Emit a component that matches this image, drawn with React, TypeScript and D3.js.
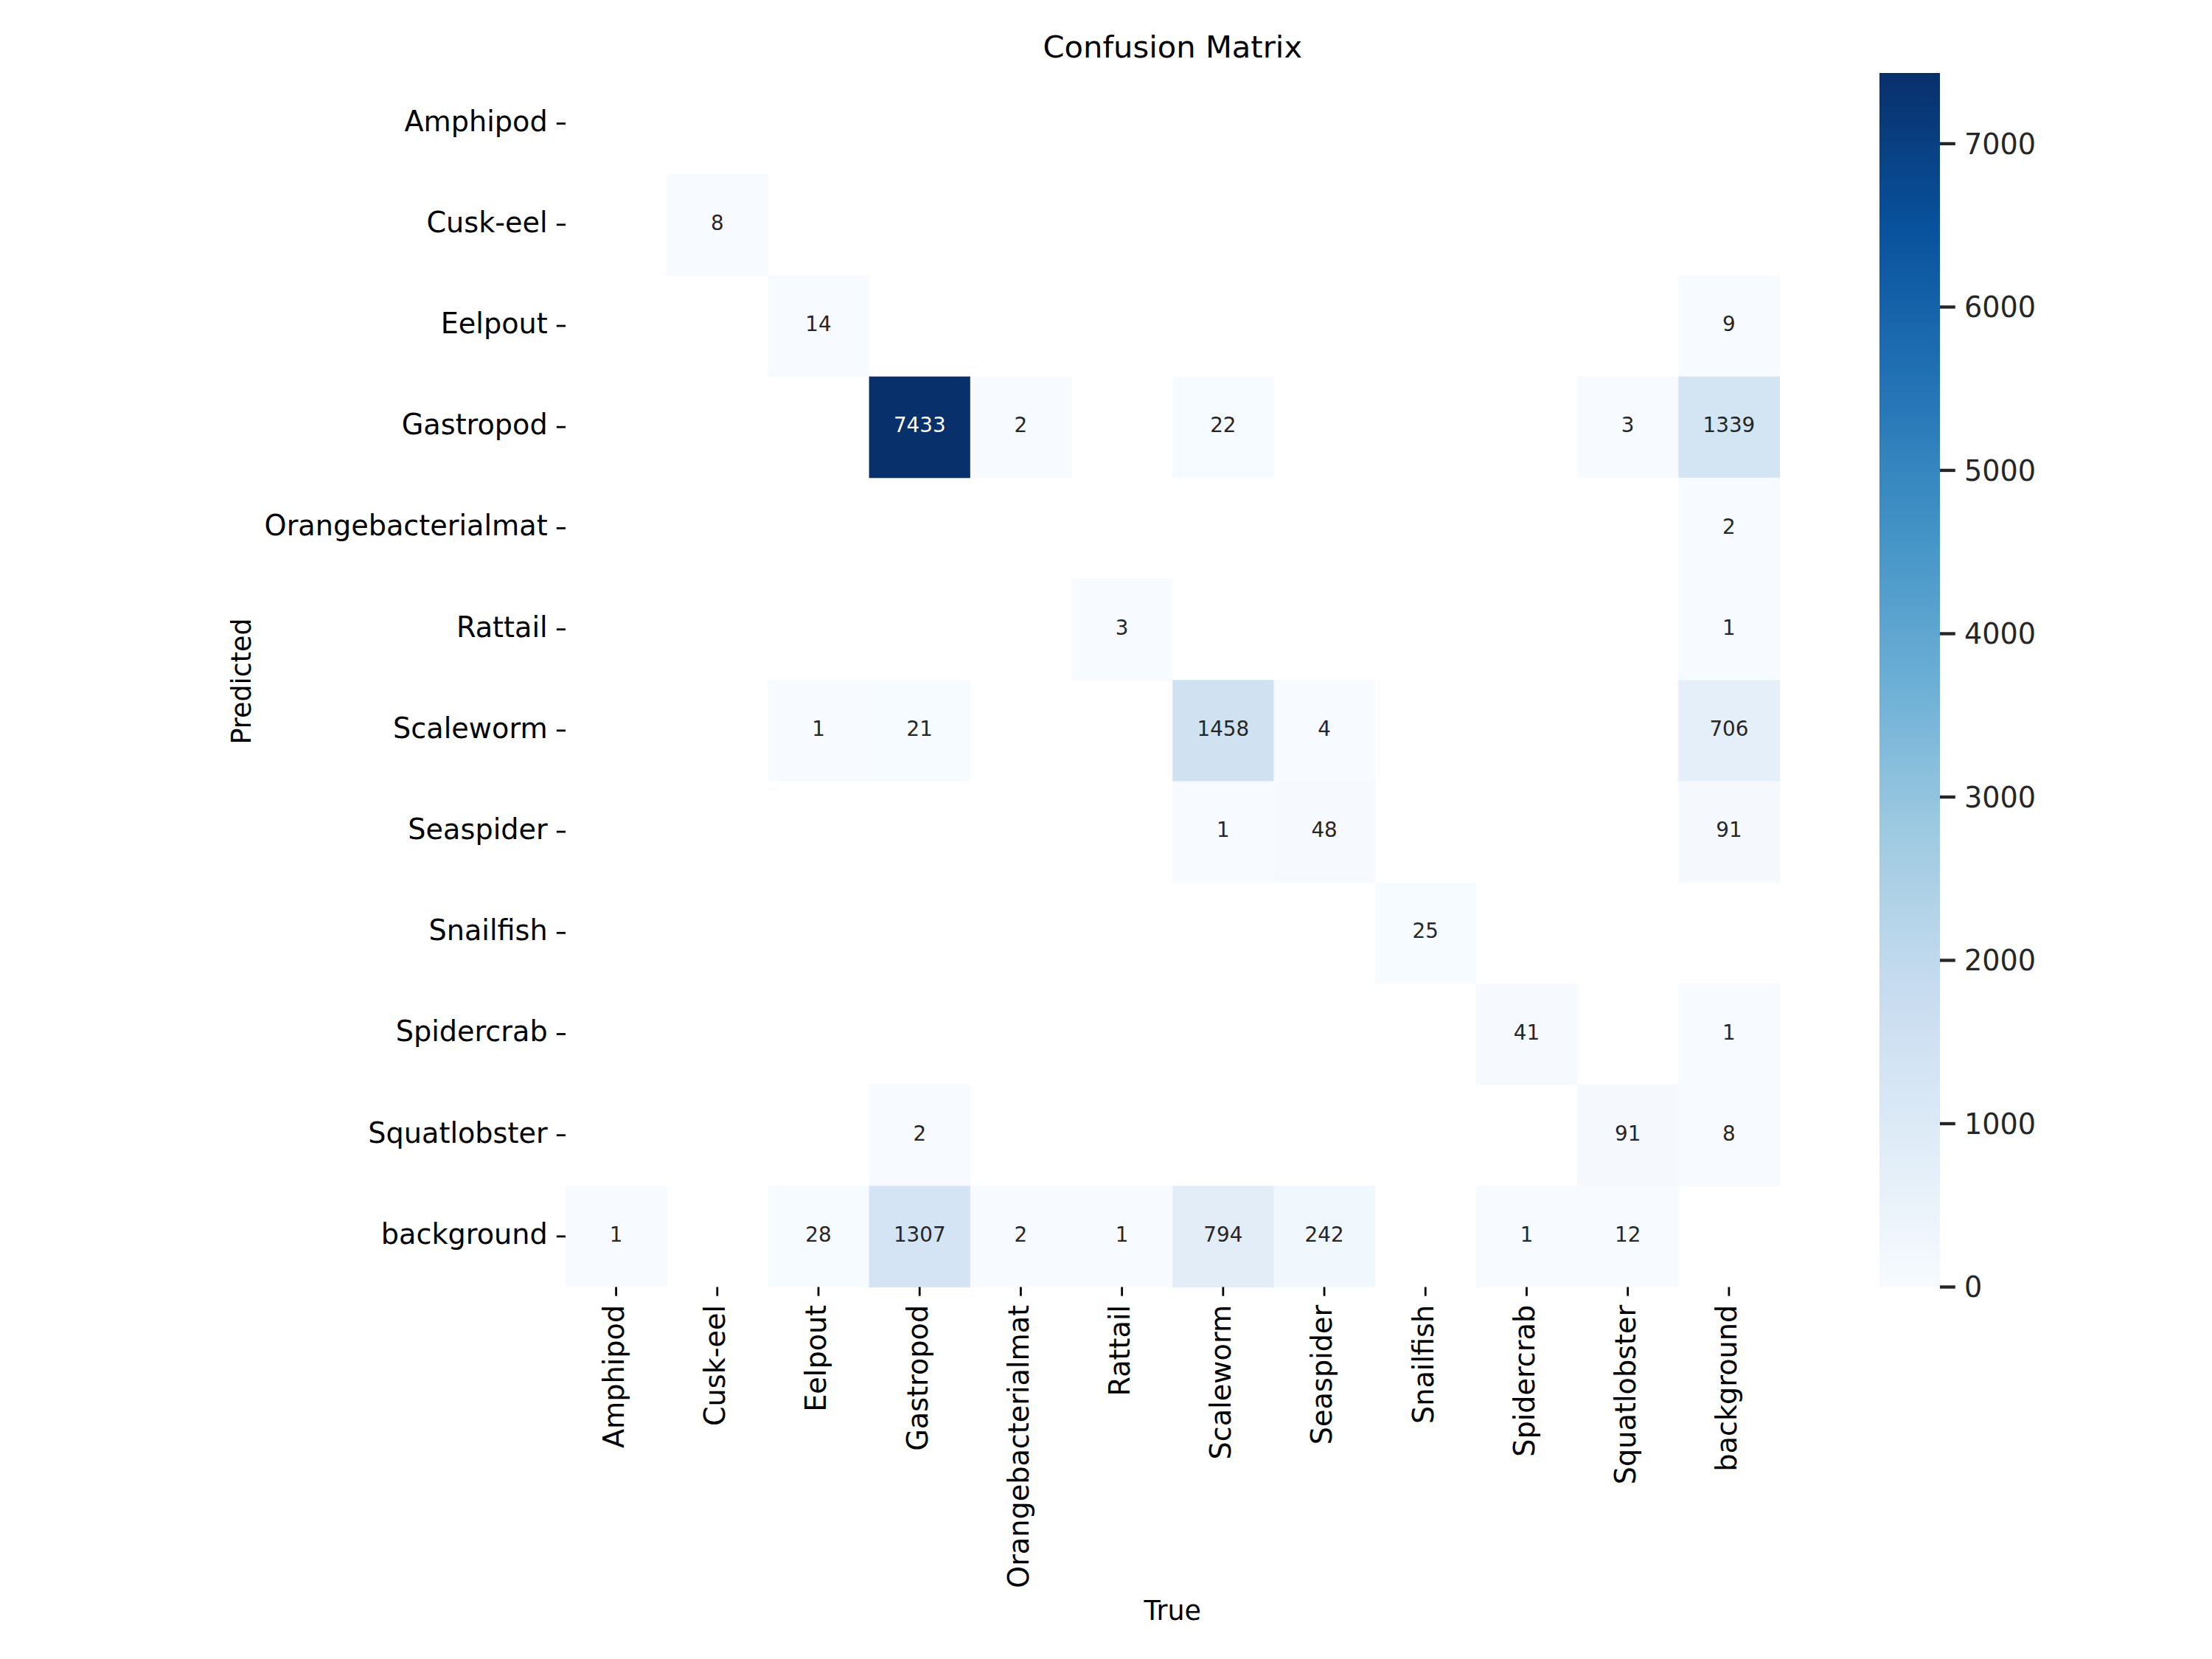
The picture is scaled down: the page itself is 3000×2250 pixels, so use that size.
import React from 'react';
import * as d3 from 'd3';

const classes = [
  'Amphipod', 'Cusk-eel', 'Eelpout', 'Gastropod', 'Orangebacterialmat', 'Rattail',
  'Scaleworm', 'Seaspider', 'Snailfish', 'Spidercrab', 'Squatlobster', 'background',
];

// Rows = Predicted, columns = True (null = empty cell)
const rowAmphipod = [null, null, null, null, null, null, null, null, null, null, null, null];
const rowCuskEel = [null, 8, null, null, null, null, null, null, null, null, null, null];
const rowEelpout = [null, null, 14, null, null, null, null, null, null, null, null, 9];
const rowGastropod = [null, null, null, 7433, 2, null, 22, null, null, null, 3, 1339];
const rowOrangebacterialmat = [null, null, null, null, null, null, null, null, null, null, null, 2];
const rowRattail = [null, null, null, null, null, 3, null, null, null, null, null, 1];
const rowScaleworm = [null, null, 1, 21, null, null, 1458, 4, null, null, null, 706];
const rowSeaspider = [null, null, null, null, null, null, 1, 48, null, null, null, 91];
const rowSnailfish = [null, null, null, null, null, null, null, null, 25, null, null, null];
const rowSpidercrab = [null, null, null, null, null, null, null, null, null, 41, null, 1];
const rowSquatlobster = [null, null, null, 2, null, null, null, null, null, null, 91, 8];
const rowBackground = [1, null, 28, 1307, 2, 1, 794, 242, null, 1, 12, null];

const matrix: (number | null)[][] = [
  rowAmphipod, rowCuskEel, rowEelpout, rowGastropod, rowOrangebacterialmat, rowRattail,
  rowScaleworm, rowSeaspider, rowSnailfish, rowSpidercrab, rowSquatlobster, rowBackground,
];

const colorbarTicks = [0, 1000, 2000, 3000, 4000, 5000, 6000, 7000];

const title = 'Confusion Matrix';
const xLabel = 'True';
const yLabel = 'Predicted';

const bluesStops = ['#f7fbff', '#deebf7', '#c6dbef', '#9ecae1', '#6baed6', '#4292c6', '#2171b5', '#08519c', '#08306b'];

const W = 3000;
const H = 2250;
const FONT = '"DejaVu Sans", Verdana, sans-serif';
const PT = 250 / 72;

const top = 99;
const bottom = 1745.5;
const left = 767;
const cell = (bottom - top) / classes.length;
const right = left + cell * classes.length;

const cbLeft = 2549;
const cbRight = 2631;

function luminance(c: string) {
  const rgb = d3.rgb(c);
  const f = (v: number) => {
    const s = v / 255;
    return s <= 0.03928 ? s / 12.92 : Math.pow((s + 0.055) / 1.055, 2.4);
  };
  return 0.2126 * f(rgb.r) + 0.7152 * f(rgb.g) + 0.0722 * f(rgb.b);
}

export default function App() {
  const allVals = matrix.flat().filter((v): v is number => v != null);
  const vmax = d3.max(allVals) as number;

  const color = d3
    .scaleLinear<string>()
    .domain(bluesStops.map((_, i) => (i / (bluesStops.length - 1)) * vmax))
    .range(bluesStops)
    .interpolate(d3.interpolateRgb)
    .clamp(true);

  const x = d3.scaleBand<string>().domain(classes).range([left, right]).padding(0);
  const y = d3.scaleBand<string>().domain(classes).range([top, bottom]).padding(0);
  const cbY = d3.scaleLinear().domain([0, vmax]).range([bottom, top]);

  const tickLen = 3.5 * PT;
  const tickPad = 3.5 * PT;
  const tickW = 0.8 * PT;
  const cbTickLen = 6 * PT;
  const cbTickW = 1.25 * PT;

  const gradStops = d3.range(0, 65).map((i) => i / 64);

  return (
    <svg
      width={W}
      height={H}
      viewBox={`0 0 ${W} ${H}`}
      style={{ position: 'absolute', left: 0, top: 0, background: '#ffffff' }}
      fontFamily={FONT}
    >
      <defs>
        <linearGradient id="cbgrad" x1="0" y1="1" x2="0" y2="0">
          {gradStops.map((t) => (
            <stop key={t} offset={t} stopColor={color(t * vmax)} />
          ))}
        </linearGradient>
      </defs>
      <rect x={0} y={0} width={W} height={H} fill="#ffffff" />

      {/* cells */}
      <g>
        {matrix.map((row, ri) =>
          row.map((v, ci) =>
            v == null ? null : (
              <rect
                key={`c-${ri}-${ci}`}
                x={x(classes[ci])}
                y={y(classes[ri])}
                width={x.bandwidth() + 0.5}
                height={y.bandwidth() + 0.5}
                fill={color(v)}
              />
            )
          )
        )}
      </g>

      {/* annotations */}
      <g fontSize={8 * PT} textAnchor="middle">
        {matrix.map((row, ri) =>
          row.map((v, ci) =>
            v == null ? null : (
              <text
                key={`t-${ri}-${ci}`}
                x={(x(classes[ci]) as number) + x.bandwidth() / 2}
                y={(y(classes[ri]) as number) + y.bandwidth() / 2}
                dy="0.26em"
                fill={luminance(color(v)) <= 0.408 ? '#ffffff' : '#262626'}
              >
                {d3.format('.0f')(v)}
              </text>
            )
          )
        )}
      </g>

      {/* y axis ticks + labels */}
      <g>
        {classes.map((c) => {
          const cy = (y(c) as number) + y.bandwidth() / 2;
          return (
            <g key={`yt-${c}`}>
              <line x1={left - tickLen} x2={left} y1={cy} y2={cy} stroke="#000000" strokeWidth={tickW} />
              <text
                x={left - tickLen - tickPad}
                y={cy}
                dy="0.26em"
                textAnchor="end"
                fontSize={11 * PT}
                fill="#000000"
              >
                {c}
              </text>
            </g>
          );
        })}
      </g>

      {/* x axis ticks + labels */}
      <g>
        {classes.map((c) => {
          const cx = (x(c) as number) + x.bandwidth() / 2;
          const ly = bottom + tickLen + tickPad;
          return (
            <g key={`xt-${c}`}>
              <line x1={cx} x2={cx} y1={bottom} y2={bottom + tickLen} stroke="#000000" strokeWidth={tickW} />
              <text
                transform={`translate(${cx},${ly}) rotate(-90)`}
                dy="0.27em"
                textAnchor="end"
                fontSize={11 * PT}
                fill="#000000"
              >
                {c}
              </text>
            </g>
          );
        })}
      </g>

      {/* colorbar */}
      <rect x={cbLeft} y={top} width={cbRight - cbLeft} height={bottom - top} fill="url(#cbgrad)" />
      <g>
        {colorbarTicks.map((t) => (
          <g key={`cb-${t}`}>
            <line
              x1={cbRight}
              x2={cbRight + cbTickLen}
              y1={cbY(t)}
              y2={cbY(t)}
              stroke="#262626"
              strokeWidth={cbTickW}
            />
            <text
              x={cbRight + cbTickLen + tickPad}
              y={cbY(t)}
              dy="0.36em"
              fontSize={11 * PT}
              fill="#262626"
            >
              {t}
            </text>
          </g>
        ))}
      </g>

      {/* title and axis labels */}
      <text x={(left + right) / 2} y={78} textAnchor="middle" fontSize={12 * PT} fill="#000000">
        {title}
      </text>
      <text x={(left + right) / 2} y={2196.5} textAnchor="middle" fontSize={10.5 * PT} fill="#000000">
        {xLabel}
      </text>
      <text
        transform={`translate(340,924) rotate(-90)`}
        textAnchor="middle"
        fontSize={10.5 * PT}
        fill="#000000"
      >
        {yLabel}
      </text>
    </svg>
  );
}
